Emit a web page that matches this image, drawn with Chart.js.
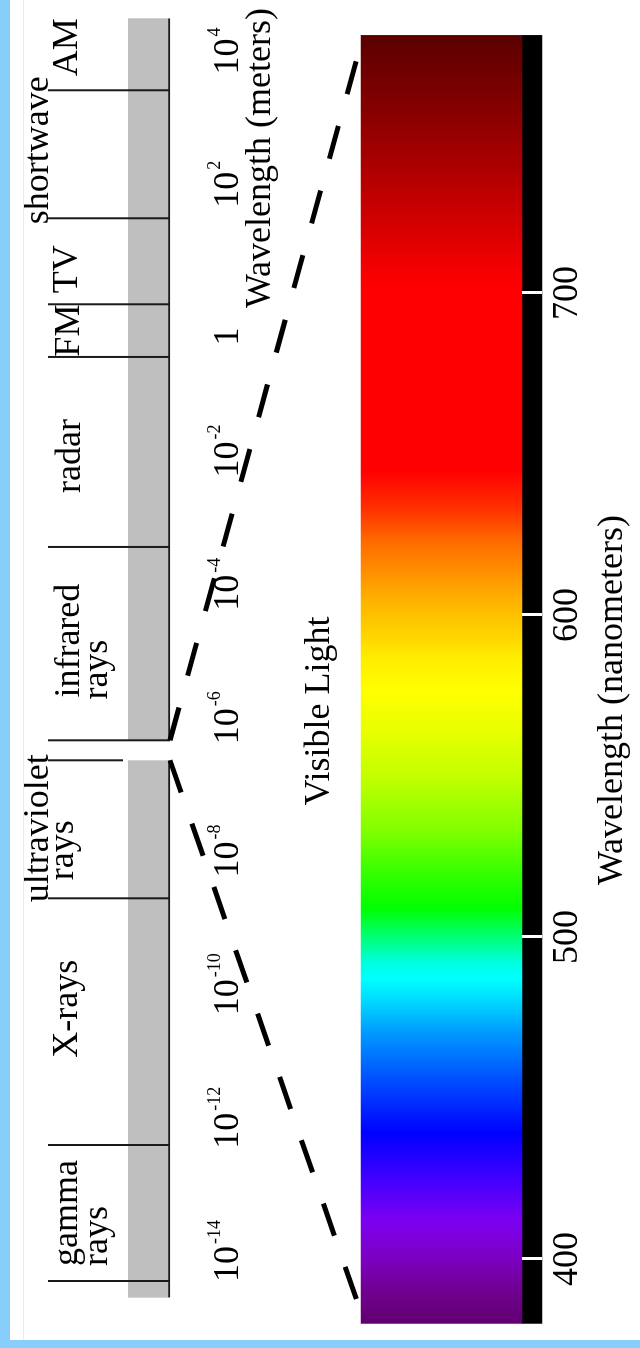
<!DOCTYPE html>
<html>
<head>
<meta charset="utf-8">
<title>Electromagnetic spectrum</title>
<script src="https://cdn.jsdelivr.net/npm/chart.js@4.4.1/dist/chart.umd.min.js"></script>
<style>
  html, body { margin: 0; padding: 0; background: #fff; }
  body { width: 640px; height: 1348px; overflow: hidden; position: relative; }
  /* the chart is drawn lying on its side and turned upright */
  #wrap { position: absolute; left: 0; top: 0; width: 1348px; height: 640px;
          transform-origin: 0 0; transform: translate(0, 1348px) rotate(-90deg); }
  #edge-left { position: absolute; left: 0; top: 0; width: 10px; height: 1348px; background: #87cefa; }
  #edge-line { position: absolute; left: 23px; top: 0; width: 1px; height: 1340px; background: #d8f0ff; }
  #edge-bottom { position: absolute; left: 0; top: 1340px; width: 640px; height: 8px; background: #87cefa; }
</style>
</head>
<body>
<div id="wrap"><canvas id="spectrum" width="1348" height="640"></canvas></div>
<div id="edge-left"></div>
<div id="edge-line"></div>
<div id="edge-bottom"></div>
<script>
'use strict';

//--------------------DATA
// wavelength bands, in log10(metres)
let bandNames = ['gamma\nrays', 'X-rays', 'ultraviolet\nrays', 'infrared\nrays', 'radar', 'FM', 'TV', 'shortwave', 'AM'];
let bandStarts = [-14.45, -12.41, -8.71, -6.34, -3.44, -0.59, 0.2, 1.49, 3.41];
let bandEnds = [-12.41, -8.71, -6.64, -3.44, -0.59, 0.2, 1.49, 3.41, 4.49];

// grey strip behind the bands (broken where visible light is pulled out)
let stripStarts = [-14.70, -6.34];
let stripEnds = [-6.64, 4.49];

// divider lines between bands
let dividers = [-14.45, -12.41, -8.71, -6.64, -6.34, -3.44, -0.59, 0.2, 1.49, 3.41];

// tick labels on the metre scale (exponents of ten)
let meterTicks = [-14, -12, -10, -8, -6, -4, -2, 0, 2, 4];

// visible spectrum, nanometres
let visibleRange = [380, 780];
let nmTicks = [400, 500, 600, 700];
let specStops = [380, 390, 400, 412, 425, 439, 456, 470, 480, 487, 492, 499, 509, 522, 533, 549, 564, 576,
  586, 595, 605, 613, 623, 633, 645, 702, 730, 755, 780];
let specColors = ['#600070', '#700090', '#7c00c0', '#7c00f0', '#4000ff', '#0000ff', '#0050ff', '#0098ff',
  '#00d8ff', '#00ffff', '#00ffe0', '#00ff80', '#00ff00', '#40ff00', '#80ff00', '#c0ff00', '#e8ff00',
  '#ffff00', '#ffee00', '#ffd000', '#ffb000', '#ff9000', '#ff6a00', '#ff3000', '#ff0000', '#ff0000',
  '#c00000', '#8a0000', '#5a0000'];

// dashed lines joining the gap in the strip to the ends of the spectrum
let connectFrom = [-6.34, -6.64]; // log10(m)
let connectTo = [773, 387]; // nm

//--------------------LAYOUT (pixels, in the sideways drawing)
const FONT = "'Liberation Serif', 'Times New Roman', serif";
const LANES = {
  stripY: 149, stripH: 42,
  dividerTop: 48, dividerBottom: 170, shortDivider: 123,
  specY: 441.5, specH: 161,
  barY: 532, barH: 20,
  connectTop: 170, connectBottom: 357
};
const TEXT = {
  size: 36, supSize: 18,
  meterBase: 238, meterSup: 220,
  nmBase: 577
};
// per band: baseline of each text line, shift of the first line, indent of the second line
const bandTextLayout = [
  { base: [77, 107], dx: 0, indent: 0 },
  { base: [77], dx: 13, indent: 0 },
  { base: [48, 73], dx: 1, indent: 22 },
  { base: [79, 107], dx: 3, indent: -2 },
  { base: [80], dx: -4, indent: 0 },
  { base: [79], dx: 0, indent: 0 },
  { base: [77], dx: -8, indent: 0 },
  { base: [48], dx: 4, indent: 0 },
  { base: [77], dx: 7, indent: 0 }
];
const meterNudge = { 0: -19 };
const titles = [
  { text: 'Wavelength (meters)', x: 1190, y: 270 },
  { text: 'Visible Light', x: 637, y: 329 },
  { text: 'Wavelength (nanometers)', x: 648, y: 622 }
];

//--------------------DATASETS
function dividerPoints() {
  let pts = [];
  for (let i = 0; i < dividers.length; i++) {
    let bottom = dividers[i] === -6.64 ? LANES.shortDivider : LANES.dividerBottom;
    pts.push({ x: dividers[i], y: LANES.dividerTop });
    pts.push({ x: dividers[i], y: bottom });
    pts.push({ x: dividers[i], y: null });
  }
  return pts;
}

function stripBars() {
  let bars = [];
  for (let i = 0; i < stripStarts.length; i++) {
    bars.push({ y: LANES.stripY, x: [stripStarts[i], stripEnds[i]] });
  }
  return bars;
}

function spectrumFill(context) {
  let chart = context.chart;
  let xn = chart.scales.xn;
  if (!chart.chartArea || !xn) {
    return specColors[0];
  }
  let x0 = xn.getPixelForValue(specStops[0]);
  let x1 = xn.getPixelForValue(specStops[specStops.length - 1]);
  let grad = chart.ctx.createLinearGradient(x0, 0, x1, 0);
  for (let i = 0; i < specStops.length; i++) {
    let t = (specStops[i] - specStops[0]) / (specStops[specStops.length - 1] - specStops[0]);
    grad.addColorStop(t, specColors[i]);
  }
  return grad;
}

//--------------------LABELS PLUGIN
const labelPlugin = {
  id: 'spectrumLabels',
  afterDatasetsDraw(chart) {
    let ctx = chart.ctx;
    let xm = chart.scales.xm;
    let xn = chart.scales.xn;
    ctx.save();

    // dashed connectors
    ctx.strokeStyle = '#000';
    ctx.lineWidth = 5;
    ctx.setLineDash([34, 33]);
    for (let i = 0; i < connectFrom.length; i++) {
      ctx.beginPath();
      ctx.moveTo(xm.getPixelForValue(connectFrom[i]), LANES.connectTop);
      ctx.lineTo(xn.getPixelForValue(connectTo[i]), LANES.connectBottom);
      ctx.stroke();
    }
    ctx.setLineDash([]);

    // white ticks across the black bar
    ctx.strokeStyle = '#fff';
    ctx.lineWidth = 3;
    for (let i = 0; i < nmTicks.length; i++) {
      let px = Math.round(xn.getPixelForValue(nmTicks[i])) + 0.5;
      ctx.beginPath();
      ctx.moveTo(px, LANES.barY - LANES.barH / 2);
      ctx.lineTo(px, LANES.barY + LANES.barH / 2);
      ctx.stroke();
    }

    ctx.fillStyle = '#000';
    ctx.textBaseline = 'alphabetic';

    // nm tick labels
    ctx.font = TEXT.size + 'px ' + FONT;
    ctx.textAlign = 'center';
    for (let i = 0; i < nmTicks.length; i++) {
      ctx.fillText(String(nmTicks[i]), xn.getPixelForValue(nmTicks[i]), TEXT.nmBase);
    }

    // metre tick labels: 10 with a raised exponent
    ctx.textAlign = 'left';
    for (let i = 0; i < meterTicks.length; i++) {
      let e = meterTicks[i];
      let base = e === 0 ? '1' : '10';
      let sup = e === 0 ? '' : String(e);
      ctx.font = TEXT.size + 'px ' + FONT;
      let wb = ctx.measureText(base).width;
      ctx.font = TEXT.supSize + 'px ' + FONT;
      let ws = sup ? ctx.measureText(sup).width + 2 : 0;
      let left = xm.getPixelForValue(e) - (wb + ws) / 2 + (meterNudge[e] || 0);
      ctx.font = TEXT.size + 'px ' + FONT;
      ctx.fillText(base, left, TEXT.meterBase);
      if (sup) {
        ctx.font = TEXT.supSize + 'px ' + FONT;
        ctx.fillText(sup, left + wb + 2, TEXT.meterSup);
      }
    }

    // band names
    ctx.font = TEXT.size + 'px ' + FONT;
    for (let i = 0; i < bandNames.length; i++) {
      let lines = bandNames[i].split('\n');
      let lay = bandTextLayout[i];
      let mid = (xm.getPixelForValue(bandStarts[i]) + xm.getPixelForValue(bandEnds[i])) / 2 + lay.dx;
      let left = mid - ctx.measureText(lines[0]).width / 2;
      ctx.fillText(lines[0], left, lay.base[0]);
      for (let j = 1; j < lines.length; j++) {
        ctx.fillText(lines[j], left + lay.indent, lay.base[j]);
      }
    }

    // titles
    ctx.textAlign = 'center';
    for (let i = 0; i < titles.length; i++) {
      ctx.fillText(titles[i].text, titles[i].x, titles[i].y);
    }
    ctx.restore();
  }
};

//--------------------CHART
let canvasElem = document.getElementById('spectrum');

// all three scales are hidden; they only place the marks
let plainScale = { display: false, offset: false, bounds: 'data', grace: 0, beginAtZero: false, grid: { offset: false } };

new Chart(canvasElem, {
  type: 'bar',
  data: {
    datasets: [
      {
        type: 'line',
        label: 'dividers',
        data: dividerPoints(),
        xAxisID: 'xm',
        yAxisID: 'y',
        borderColor: '#1a1a1a',
        borderWidth: 2,
        pointRadius: 0,
        spanGaps: false,
        fill: false
      },
      {
        label: 'strip',
        data: stripBars(),
        indexAxis: 'y',
        xAxisID: 'xm',
        yAxisID: 'y',
        grouped: false,
        barThickness: LANES.stripH,
        backgroundColor: '#bfbfbf',
        borderColor: '#1a1a1a',
        borderWidth: { top: 0, left: 0, right: 0, bottom: 2 },
        borderSkipped: false
      },
      {
        label: 'visible',
        data: [{ y: LANES.specY, x: visibleRange }],
        indexAxis: 'y',
        xAxisID: 'xn',
        yAxisID: 'y',
        grouped: false,
        barThickness: LANES.specH,
        backgroundColor: spectrumFill,
        borderWidth: 0
      },
      {
        label: 'nm bar',
        data: [{ y: LANES.barY, x: visibleRange }],
        indexAxis: 'y',
        xAxisID: 'xn',
        yAxisID: 'y',
        grouped: false,
        barThickness: LANES.barH,
        backgroundColor: '#000',
        borderWidth: 0
      }
    ]
  },
  options: {
    responsive: false,
    animation: false,
    events: [],
    layout: { padding: 0 },
    plugins: {
      legend: { display: false },
      tooltip: { enabled: false },
      title: { display: false }
    },
    scales: {
      xm: Object.assign({ type: 'linear', axis: 'x', min: -15.455, max: 4.764 }, plainScale),
      xn: Object.assign({ type: 'linear', axis: 'x', min: 372.36, max: 790.99 }, plainScale),
      y: Object.assign({ type: 'linear', axis: 'y', min: 0, max: 640, reverse: true }, plainScale)
    }
  },
  plugins: [labelPlugin]
});
</script>
</body>
</html>
